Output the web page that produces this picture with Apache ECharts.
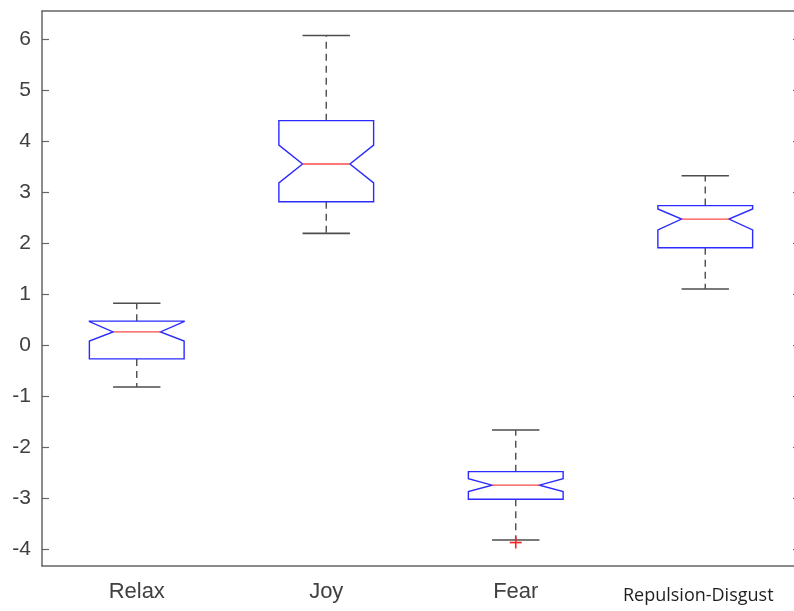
<!DOCTYPE html>
<html>
<head>
<meta charset="utf-8">
<script src="https://cdn.jsdelivr.net/npm/echarts@6/dist/echarts.min.js"></script>
<style>
  html, body { margin: 0; padding: 0; background: #fff; overflow: hidden; }
  /* the axes box runs a few pixels past the right edge of the picture */
  #chart { width: 800px; height: 611px; }
</style>
</head>
<body>
<div id="chart"></div>
<script>
// categories and box statistics
var categories = ['Relax', 'Joy', 'Fear', 'Repulsion-Disgust'];
var whiskerLow  = [-0.82, 2.19, -3.82, 1.10];
var q1          = [-0.27, 2.81, -3.02, 1.91];
var notchLow    = [ 0.08, 3.18, -2.87, 2.26];
var median      = [ 0.26, 3.55, -2.745, 2.47];
var notchHigh   = [ 0.46, 3.92, -2.62, 2.67];
var q3          = [ 0.47, 4.40, -2.48, 2.735];
var whiskerHigh = [ 0.82, 6.07, -1.665, 3.32];
// outliers: [category index, value]
var outliers = [[2, -3.87]];
var yTicks = [-4, -3, -2, -1, 0, 1, 2, 3, 4, 5, 6];

var boxData = categories.map(function (c, i) {
  return [i, whiskerLow[i], q1[i], notchLow[i], median[i], notchHigh[i], q3[i], whiskerHigh[i]];
});

var axisColor = '#666';
var whiskerColor = '#4d4d4d';

function renderBox(params, api) {
  var idx = api.value(0);
  var band = api.size([1, 0])[0];
  var halfBox = band * 0.25;
  var halfNotch = band * 0.125;
  var pt = function (v) { return api.coord([idx, v]); };
  var cx = pt(api.value(4))[0];
  var yWL = pt(api.value(1))[1];
  var yQ1 = pt(api.value(2))[1];
  var yNL = pt(api.value(3))[1];
  var yMed = pt(api.value(4))[1];
  var yNH = pt(api.value(5))[1];
  var yQ3 = pt(api.value(6))[1];
  var yWH = pt(api.value(7))[1];
  var L = cx - halfBox, R = cx + halfBox;
  var poly = [
    [L, yQ1], [L, yNL], [cx - halfNotch, yMed], [L, yNH], [L, yQ3],
    [R, yQ3], [R, yNH], [cx + halfNotch, yMed], [R, yNL], [R, yQ1]
  ];
  var dash = { stroke: whiskerColor, lineWidth: 1.4, lineDash: [7, 5] };
  var solid = { stroke: whiskerColor, lineWidth: 1.6 };
  return {
    type: 'group',
    children: [
      { type: 'line', shape: { x1: cx, y1: yQ3, x2: cx, y2: yWH }, style: dash },
      { type: 'line', shape: { x1: cx, y1: yQ1, x2: cx, y2: yWL }, style: dash },
      { type: 'line', shape: { x1: cx - halfNotch, y1: yWH, x2: cx + halfNotch, y2: yWH }, style: solid },
      { type: 'line', shape: { x1: cx - halfNotch, y1: yWL, x2: cx + halfNotch, y2: yWL }, style: solid },
      { type: 'polygon', shape: { points: poly }, style: { fill: '#fff', stroke: '#2b2bff', lineWidth: 1.4 } },
      { type: 'line', shape: { x1: cx - halfNotch, y1: yMed, x2: cx + halfNotch, y2: yMed }, style: { stroke: '#ff4848', lineWidth: 1.4 } }
    ]
  };
}

function renderOutlier(params, api) {
  var p = api.coord([api.value(0), api.value(1)]);
  var s = 6;
  var st = { stroke: '#ff2020', lineWidth: 1.6 };
  return {
    type: 'group',
    children: [
      { type: 'line', shape: { x1: p[0] - s, y1: p[1], x2: p[0] + s, y2: p[1] }, style: st },
      { type: 'line', shape: { x1: p[0], y1: p[1] - s, x2: p[0], y2: p[1] + s }, style: st }
    ]
  };
}

var option = {
  animation: false,
  backgroundColor: '#fff',
  grid: { left: 42, top: 11, right: 0, bottom: 45 },
  xAxis: [
    {
      type: 'category',
      data: categories,
      position: 'bottom',
      axisLine: { onZero: false, lineStyle: { color: axisColor, width: 1.5 } },
      axisTick: { inside: true, length: 7, alignWithLabel: true, lineStyle: { color: axisColor, width: 1.2 } },
      axisLabel: {
        interval: 0,
        margin: 15,
        fontFamily: 'Liberation Sans',
        fontSize: 22,
        color: '#404040',
        formatter: function (v) {
          return v === 'Repulsion-Disgust' ? '{rd|' + v + '}' : v;
        },
        rich: {
          rd: { fontFamily: 'Open Sans', fontSize: 18, color: '#1e1e1e', padding: [6, 14, 0, 0] }
        }
      }
    },
    {
      type: 'category',
      data: categories,
      position: 'top',
      axisLine: { onZero: false, lineStyle: { color: axisColor, width: 1.5 } },
      axisTick: { inside: true, length: 7, alignWithLabel: true, lineStyle: { color: axisColor, width: 1.2 } },
      axisLabel: { show: false }
    }
  ],
  yAxis: [
    {
      type: 'value',
      min: -4.33,
      max: 6.55,
      position: 'left',
      splitLine: { show: false },
      axisLine: { show: true, onZero: false, lineStyle: { color: axisColor, width: 1.5 } },
      axisTick: { show: true, inside: true, length: 7, customValues: yTicks, lineStyle: { color: axisColor, width: 1.2 } },
      axisLabel: {
        customValues: yTicks,
        margin: 11,
        fontFamily: 'Liberation Sans',
        fontSize: 21,
        color: '#404040'
      }
    },
    {
      type: 'value',
      min: -4.33,
      max: 6.55,
      position: 'right',
      splitLine: { show: false },
      axisLine: { show: true, onZero: false, lineStyle: { color: axisColor, width: 1.5 } },
      axisTick: { show: true, inside: true, length: 7, customValues: yTicks, lineStyle: { color: axisColor, width: 1.2 } },
      axisLabel: { show: false }
    }
  ],
  series: [
    {
      type: 'custom',
      renderItem: renderBox,
      encode: { x: 0, y: [1, 2, 3, 4, 5, 6, 7] },
      data: boxData,
      z: 2
    },
    {
      type: 'custom',
      renderItem: renderOutlier,
      encode: { x: 0, y: 1 },
      data: outliers,
      z: 3
    }
  ]
};

var chart = echarts.init(document.getElementById('chart'));
chart.setOption(option);
</script>
</body>
</html>
